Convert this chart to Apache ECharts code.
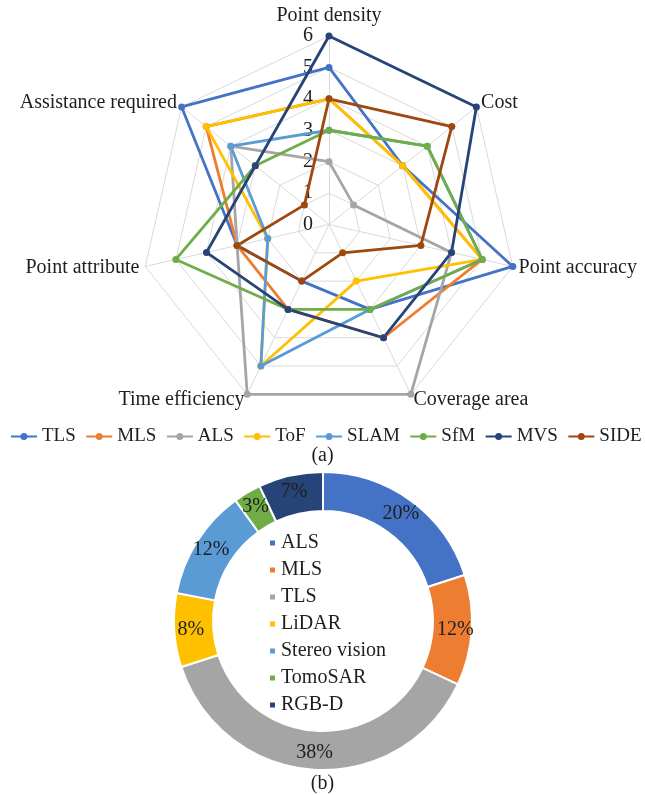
<!DOCTYPE html>
<html>
<head>
<meta charset="utf-8">
<script src="https://cdn.jsdelivr.net/npm/echarts@6/dist/echarts.min.js"></script>
<style>
  html, body { margin: 0; padding: 0; background: #ffffff; }
  #radar { width: 645px; height: 465px; }
  #pie { width: 645px; height: 330px; }
</style>
</head>
<body>
<div id="radar"></div>
<div id="pie"></div>
<script>
// ---- (a) capability scores, listed clockwise from the top axis ----
const indicatorNames = ['Point density', 'Cost', 'Point accuracy', 'Coverage area',
                        'Time efficiency', 'Point attribute', 'Assistance required'];
const scoreMax = 6;
const methodNames = ['TLS', 'MLS', 'ALS', 'ToF', 'SLAM', 'SfM', 'MVS', 'SIDE'];
const tlsScores  = [5, 3, 6, 3, 2, 3, 6];
const mlsScores  = [4, 3, 5, 4, 3, 3, 5];
const alsScores  = [2, 1, 4, 6, 6, 3, 4];
const tofScores  = [4, 3, 5, 2, 5, 2, 5];
const slamScores = [3, 4, 5, 3, 5, 2, 4];
const sfmScores  = [3, 4, 5, 3, 3, 5, 3];
const mvsScores  = [6, 6, 4, 4, 3, 4, 3];
const sideScores = [4, 5, 3, 1, 2, 3, 1];
const methodColors = ['#4472C4', '#ED7D31', '#A5A5A5', '#FFC000',
                      '#5B9BD5', '#70AD47', '#264478', '#9E480E'];

// ---- (b) share of data sources ----
const sensorNames  = ['ALS', 'MLS', 'TLS', 'LiDAR', 'Stereo vision', 'TomoSAR', 'RGB-D'];
const sensorShares = [20, 12, 38, 8, 12, 3, 7];
const sensorColors = ['#4472C4', '#ED7D31', '#A5A5A5', '#FFC000',
                      '#5B9BD5', '#70AD47', '#264478'];

const FONT = "'Liberation Serif', 'Times New Roman', serif";
const INK = '#1e1e1e';

// ECharts lays radar indicators out counter-clockwise, so keep the first
// axis at the top and walk the rest in reverse to read clockwise.
const order = [0].concat(indicatorNames.map((_, i) => i).slice(1).reverse());
const reorder = arr => order.map(i => arr[i]);

const allScores = [tlsScores, mlsScores, alsScores, tofScores,
                   slamScores, sfmScores, mvsScores, sideScores];

const indicators = order.map((i, k) => {
  const ind = { name: indicatorNames[i], min: 0, max: scoreMax };
  if (k === 0) {
    ind.axisLabel = { show: true, margin: 16, fontSize: 20, fontFamily: FONT, color: INK };
  }
  return ind;
});

// legend glyph: a short line with a dot in the middle
const lineDotIcon = 'path://M0,2.6 L9.6,2.6 L9.6,4.4 L0,4.4 Z M16.4,2.6 L26,2.6 L26,4.4 L16.4,4.4 Z ' +
                    'M13,0 A3.5,3.5 0 1,1 12.99,0 Z';

const radarChart = echarts.init(document.getElementById('radar'), null, { renderer: 'canvas' });
radarChart.setOption({
  animation: false,
  textStyle: { fontFamily: FONT },
  title: {
    text: '(a)', left: 'center', top: 446, padding: 0,
    textStyle: { fontSize: 20, fontWeight: 'normal', fontFamily: FONT, color: INK }
  },
  legend: {
    data: methodNames,
    left: 11, top: 427, width: 640, padding: 0,
    itemWidth: 26, itemHeight: 7, itemGap: 10.5,
    icon: lineDotIcon,
    textStyle: { fontSize: 19, fontFamily: FONT, color: INK }
  },
  radar: {
    center: [329, 224.5],
    radius: 188.5,
    startAngle: 90,
    shape: 'polygon',
    splitNumber: 6,
    indicator: indicators,
    nameGap: 6,
    axisName: { fontSize: 20, fontFamily: FONT, color: INK },
    axisLine: { lineStyle: { color: '#D9D9D9', width: 1 } },
    splitLine: { lineStyle: { color: '#D9D9D9', width: 1 } },
    splitArea: { show: false },
    axisTick: { show: false },
    axisLabel: { show: false }
  },
  series: methodNames.map((name, s) => ({
    type: 'radar',
    name: name,
    symbol: 'circle',
    symbolSize: 7,
    lineStyle: { width: 2.8, color: methodColors[s] },
    itemStyle: { color: methodColors[s] },
    data: [{ name: name, value: reorder(allScores[s]) }]
  }))
});

const pieChart = echarts.init(document.getElementById('pie'), null, { renderer: 'canvas' });
pieChart.setOption({
  animation: false,
  textStyle: { fontFamily: FONT },
  title: {
    text: '(b)', left: 'center', top: 309, padding: 0,
    textStyle: { fontSize: 20, fontWeight: 'normal', fontFamily: FONT, color: INK }
  },
  legend: {
    orient: 'vertical',
    left: 263, top: 63,
    itemWidth: 7, itemHeight: 7, itemGap: 7,
    icon: 'rect',
    data: sensorNames,
    textStyle: { fontSize: 20, fontFamily: FONT, color: INK }
  },
  series: [{
    type: 'pie',
    center: [323, 156],
    radius: [110, 149],
    startAngle: 90,
    clockwise: true,
    avoidLabelOverlap: false,
    itemStyle: { borderColor: '#ffffff', borderWidth: 2 },
    label: {
      show: true, position: 'inside',
      formatter: '{c}%',
      fontSize: 20, fontFamily: FONT, color: INK
    },
    labelLine: { show: false },
    data: sensorNames.map((name, i) => ({
      name: name, value: sensorShares[i], itemStyle: { color: sensorColors[i] }
    }))
  }]
});
</script>
</body>
</html>
